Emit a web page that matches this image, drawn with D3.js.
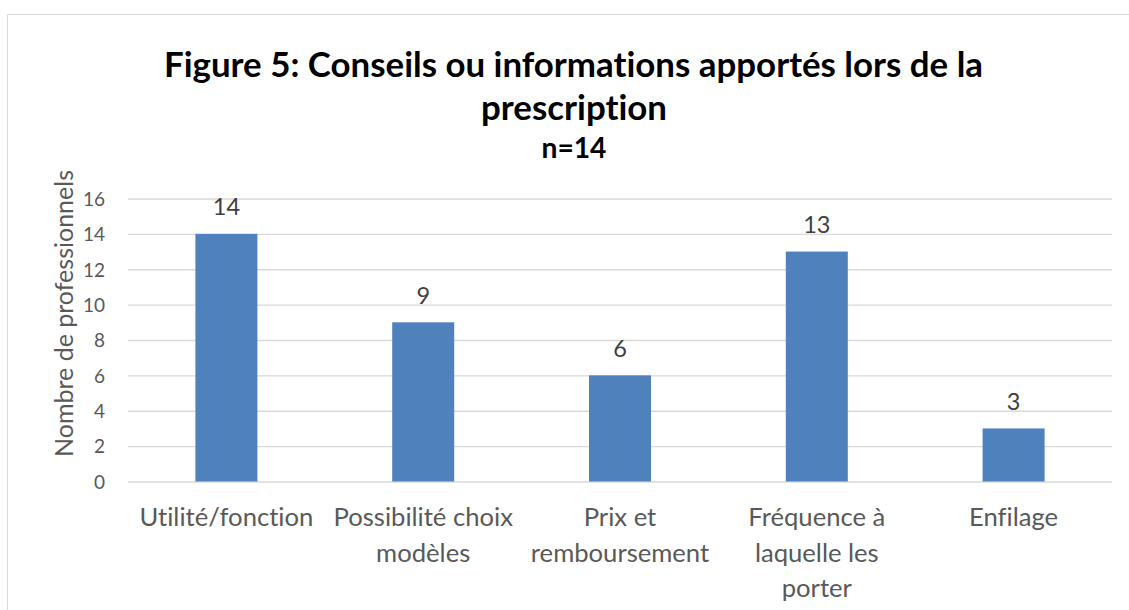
<!DOCTYPE html>
<html>
<head>
<meta charset="utf-8">
<script src="https://cdn.jsdelivr.net/npm/d3@7/dist/d3.min.js"></script>
<style>
  html, body { margin: 0; padding: 0; background: #fff; }
  svg { display: block; }
  text { font-variant-ligatures: none; font-feature-settings: "liga" 0, "clig" 0; }
</style>
</head>
<body>
<svg id="chart" width="1129" height="610"></svg>
<script>
// ---- data ----
const categories = ["Utilité/fonction", "Possibilité choix modèles", "Prix et remboursement", "Fréquence à laquelle les porter", "Enfilage"];
const categoryLines = [["Utilité/fonction"], ["Possibilité choix", "modèles"], ["Prix et", "remboursement"], ["Fréquence à", "laquelle les", "porter"], ["Enfilage"]];
const values = [14, 9, 6, 13, 3];
const yTicks = [0, 2, 4, 6, 8, 10, 12, 14, 16];
const titleLines = ["Figure 5: Conseils ou informations apportés lors de la", "prescription"];
const subtitle = "n=14";
const yAxisTitle = "Nombre de professionnels";

// ---- layout ----
const W = 1129, H = 610;
const plot = { left: 128, right: 1112, top: 198.5, bottom: 481.5 };
const FONT = "Lato, 'Open Sans', sans-serif";

const svg = d3.select("#chart");

// outer chart border
svg.append("rect")
  .attr("x", 7.5).attr("y", 14.5)
  .attr("width", W + 20).attr("height", H + 20)
  .attr("fill", "#fff").attr("stroke", "#D9D9D9").attr("stroke-width", 1);

const x = d3.scaleBand().domain(categories).range([plot.left, plot.right])
  .paddingInner(0.685).paddingOuter(0.3425);
const y = d3.scaleLinear().domain([0, 16]).range([plot.bottom, plot.top]);

// fit helper: scale font-size so text reaches target width
function fit(sel, target) {
  const node = sel.node();
  const fs = parseFloat(sel.attr("font-size"));
  const len = node.getComputedTextLength();
  if (len > 0) sel.attr("font-size", (fs * target / len).toFixed(2));
  return parseFloat(sel.attr("font-size"));
}

// gridlines + tick labels
const yAxis = d3.axisLeft(y).tickValues(yTicks).tickSize(-(plot.right - plot.left)).tickPadding(23);
const gy = svg.append("g").attr("transform", `translate(${plot.left},0)`).call(yAxis);
gy.select(".domain").remove();
gy.selectAll(".tick line").attr("stroke", "#D9D9D9").attr("stroke-width", 1.3);
gy.selectAll(".tick text")
  .attr("font-family", FONT).attr("font-size", 19).attr("fill", "#595959")
  .attr("dy", "0.36em");

// bars
svg.append("g").selectAll("rect").data(values).join("rect")
  .attr("x", (d, i) => x(categories[i]))
  .attr("y", d => y(d))
  .attr("width", x.bandwidth())
  .attr("height", d => y(0) - y(d))
  .attr("fill", "#4F81BD");

// data labels
svg.append("g").selectAll("text").data(values).join("text")
  .attr("x", (d, i) => x(categories[i]) + x.bandwidth() / 2)
  .attr("y", d => y(d) - 18.5)
  .attr("text-anchor", "middle")
  .attr("font-family", FONT).attr("font-size", 23.5).attr("fill", "#404040")
  .text(d => d);

// category labels
const catG = svg.append("g");
const catTexts = catG.selectAll("text").data(categoryLines).join("text")
  .attr("x", (d, i) => x(categories[i]) + x.bandwidth() / 2)
  .attr("y", 526)
  .attr("text-anchor", "middle")
  .attr("font-family", FONT).attr("font-size", 23).attr("fill", "#595959");
catTexts.selectAll("tspan").data(d => d).join("tspan")
  .attr("x", function () { return d3.select(this.parentNode).attr("x"); })
  .attr("dy", (d, j) => j === 0 ? 0 : 35.5)
  .text(d => d);
{
  const first = catTexts.filter((d, i) => i === 0);
  const fs = fit(first, 174);
  catTexts.attr("font-size", fs);
}

// y axis title
const yt = svg.append("text")
  .attr("transform", "translate(73,313.5) rotate(-90)")
  .attr("text-anchor", "middle")
  .attr("font-family", FONT).attr("font-size", 23).attr("fill", "#595959")
  .text(yAxisTitle);
fit(yt, 287);

// title
const t1 = svg.append("text")
  .attr("x", 573.5).attr("y", 77)
  .attr("text-anchor", "middle")
  .attr("font-family", FONT).attr("font-weight", "bold").attr("font-size", 32).attr("fill", "#000")
  .text(titleLines[0]);
const tfs = fit(t1, 819);
svg.append("text")
  .attr("x", 574).attr("y", 120)
  .attr("text-anchor", "middle")
  .attr("font-family", FONT).attr("font-weight", "bold").attr("font-size", tfs).attr("fill", "#000")
  .text(titleLines[1]);
const st = svg.append("text")
  .attr("x", 574).attr("y", 158)
  .attr("text-anchor", "middle")
  .attr("font-family", FONT).attr("font-weight", "bold").attr("font-size", 26).attr("fill", "#000")
  .text(subtitle);
fit(st, 65);
</script>
</body>
</html>
